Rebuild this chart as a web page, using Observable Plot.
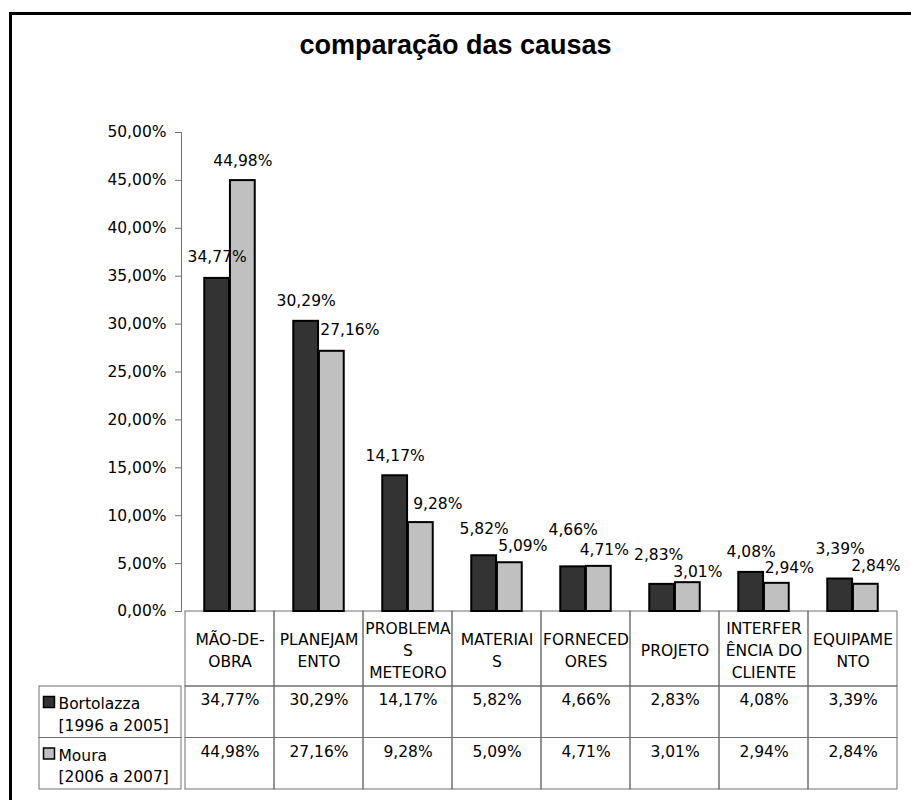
<!DOCTYPE html>
<html><head><meta charset="utf-8">
<script src="https://cdn.jsdelivr.net/npm/d3@7"></script>
<script src="https://cdn.jsdelivr.net/npm/@observablehq/plot@0.6"></script>
<style>
html,body{margin:0;padding:0;background:#fff;}
body{width:911px;height:800px;overflow:hidden;position:relative;}
#frame{position:absolute;left:9px;top:12px;width:1000px;height:1000px;border-top:3px solid #000;border-left:3px solid #000;pointer-events:none;}
#title{height:80px;box-sizing:border-box;padding-top:30px;text-align:center;font:bold 27px "Liberation Sans", Arial, sans-serif;line-height:30px;color:#000;}
#chart svg{display:block;}
</style></head><body>
<div id="frame"></div>
<div id="title">comparação das causas</div>
<div id="chart"></div>
<script>
// ---- data ----
const categories = ["MÃO-DE-OBRA", "PLANEJAMENTO", "PROBLEMAS METEORO", "MATERIAIS", "FORNECEDORES", "PROJETO", "INTERFERÊNCIA DO CLIENTE", "EQUIPAMENTO"];
const categoryLines = ["MÃO-DE-\nOBRA", "PLANEJAM\nENTO", "PROBLEMA\nS\nMETEORO", "MATERIAI\nS", "FORNECED\nORES", "PROJETO", "INTERFER\nÊNCIA DO\nCLIENTE", "EQUIPAME\nNTO"];
const seriesNames = ["Bortolazza", "Moura"];
const seriesPeriods = ["[1996 a 2005]", "[2006 a 2007]"];
const bortolazza = [34.77, 30.29, 14.17, 5.82, 4.66, 2.83, 4.08, 3.39];
const moura = [44.98, 27.16, 9.28, 5.09, 4.71, 3.01, 2.94, 2.84];
const yTicks = [0, 5, 10, 15, 20, 25, 30, 35, 40, 45, 50];

// ---- styles / layout ----
const seriesValues = [bortolazza, moura];
const seriesFill = ["#333333", "#c0c0c0"];
// hand-placed data-label nudges (px), as in the original chart
const labelDx = [[0, 0, 0, 0, 0, -3.5, 0, 0], [0, 18, 17, 13, 5.5, 10, 12.5, 10]];
const labelRise = [[21, 20, 20, 27, 37, 29, 20, 30], [20, 21, 19, 17, 16, 11, 15, 18]];
const gridColor = "#707070";
const W = 911, H = 720, mL = 181, mR = 11, mT = 52, mB = 189;
const k = (H - mT - mB) / 50;               // px per percentage point
const step = (W - mL - mR) / categories.length;
const barW = step / 3.5;                      // Excel gap width 150%
const gapOuter = step * 0.75 / 3.5;
const toY = px => -px / k;                    // px below axis -> y units
const headerH = 75, rowH = 51.5, legendW = 142;
const fmt = v => v.toFixed(2).replace(".", ",") + "%";

const rowBounds = [[0, headerH], [headerH, headerH + rowH], [headerH + rowH, headerH + 2 * rowH]];
const cells = rowBounds.flatMap(([a, b]) => categories.map(c => ({cat: c, y1: toY(a), y2: toY(b)})));
const legendCells = rowBounds.slice(1).map(([a, b]) => ({y1: toY(a), y2: toY(b)}));

const marks = [
  // table grid
  Plot.barY(cells, {x: "cat", y1: "y1", y2: "y2", fill: "none", stroke: gridColor, strokeWidth: 1}),
  Plot.rect(legendCells, {y1: "y1", y2: "y2", insetLeft: -legendW, insetRight: W - mL - mR, fill: "none", stroke: gridColor, strokeWidth: 1}),
  // y axis
  Plot.frame({anchor: "left", stroke: gridColor}),
  Plot.axisY({ticks: yTicks, tickFormat: fmt, tickSize: 6, tickPadding: 9, stroke: gridColor, fill: "#000", label: null}),
  // category labels
  Plot.text(categories, {x: d => d, y: toY(headerH / 2), text: (d, i) => categoryLines[i], lineAnchor: "middle", lineHeight: 1.4, fill: "#000"})
];

seriesNames.forEach((name, s) => {
  const vals = seriesValues[s];
  marks.push(
    Plot.barY(categories, {
      x: d => d, y: (d, i) => vals[i],
      insetLeft: s === 0 ? gapOuter : gapOuter + barW,
      insetRight: s === 0 ? gapOuter + barW : gapOuter,
      fill: seriesFill[s], stroke: "#000", strokeWidth: 2
    })
  );
});
seriesNames.forEach((name, s) => {
  const vals = seriesValues[s];
  // data labels, one mark per label so each keeps its own nudge
  categories.forEach((c, i) => {
    marks.push(Plot.text([c], {
      x: d => d, y: () => vals[i], text: () => fmt(vals[i]),
      dx: (s === 0 ? -1 : 1) * barW / 2 + labelDx[s][i], dy: -labelRise[s][i],
      lineAnchor: "middle", fill: "#000"
    }));
  });
  marks.push(
    // table values
    Plot.text(categories, {
      x: d => d, y: toY(headerH + s * rowH + 14), text: (d, i) => fmt(vals[i]),
      lineAnchor: "middle", fill: "#000"
    }),
    // legend in table
    Plot.dot([name], {
      frameAnchor: "left", dx: 48.5 - mL, y: toY(90.5 + s * rowH),
      symbol: "square", r: 6.2, fill: seriesFill[s], stroke: "#000", strokeWidth: 1.5
    }),
    Plot.text([name], {
      frameAnchor: "left", dx: 58 - mL, y: toY(101.5 + s * rowH),
      text: d => d + "\n" + seriesPeriods[s], textAnchor: "start", lineAnchor: "middle", lineHeight: 1.38, fill: "#000"
    })
  );
});

const chart = Plot.plot({
  width: W, height: H,
  marginLeft: mL, marginRight: mR, marginTop: mT, marginBottom: mB,
  style: {fontFamily: "'DejaVu Sans', Verdana, sans-serif", fontSize: "15.5px", background: "#fff", color: "#000", overflow: "visible"},
  x: {domain: categories, padding: 0, axis: null},
  y: {domain: [0, 50], axis: null},
  marks
});
document.getElementById("chart").appendChild(chart);
</script>
</body></html>
